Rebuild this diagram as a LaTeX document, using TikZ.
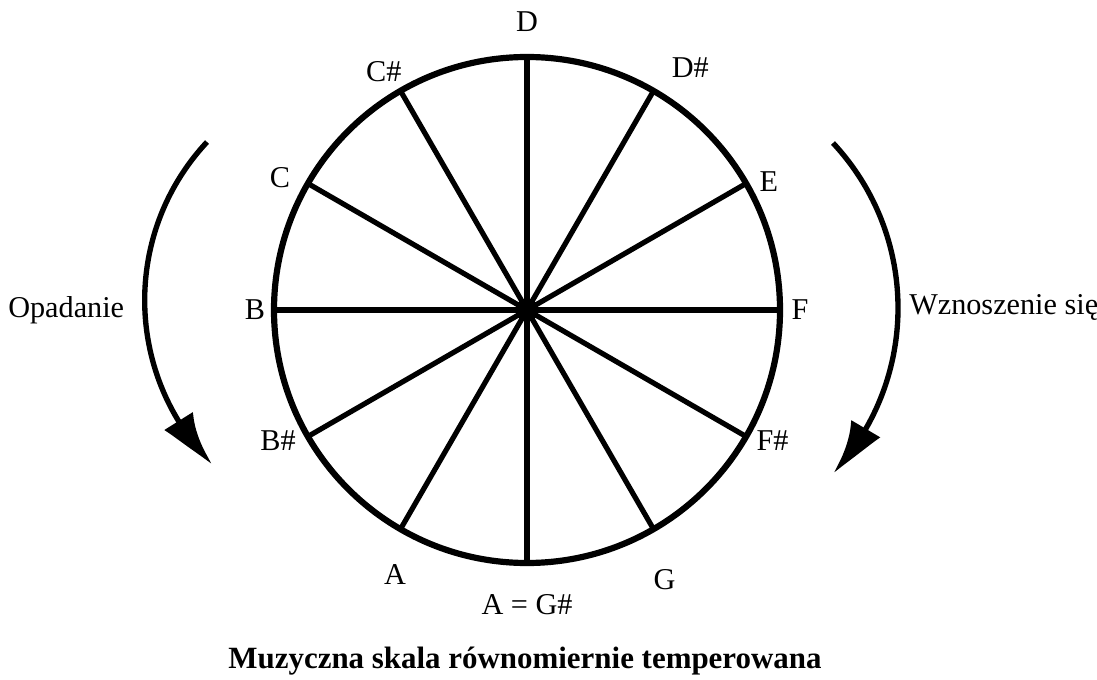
\documentclass[tikz,border=0pt]{standalone}
\usepackage{fontspec}
\setmainfont{Liberation Serif}
\usetikzlibrary{arrows.meta,bending,positioning}

\begin{document}
\begin{tikzpicture}[x=0.025cm,y=0.025cm,
        tone/.style={inner sep=0pt,font=\fontsize{21.5}{24}\selectfont},
        turn/.style={line width=3.8pt,-{Latex[length=40pt,width=24pt,bend]}}]
        \useasboundingbox (0,0) rectangle (1097,679);
        % wheel of tones
        \coordinate (c) at (527,369);
        \draw[line width=4.4pt] (c) circle (253);
        \foreach \a in {0,30,...,330} {
          \path (c) ++(\a:253) coordinate (rim\a);
          \draw[line width=3.7pt] (c) -- (rim\a);
        }
        \fill (c) circle (11);
        \foreach \a/\r/\t [count=\i] in {90/288/D, 56/292/D\#, 28/274/E, 0/273/F,
            -28/278/F\#, -63/303/G, -90/295/{A = G\#}, 243.5/296/A,
            207.6/281/B\#, 180/272/B, 151.9/280/C, 121/278/C\#}
          \path (c) ++(\a:\r) node[tone] (t\i) {\t};
        % directions
        \coordinate (fall) at (207,537);
        \coordinate (rise) at (833,536);
        \draw[turn] (fall) arc[start angle=137,end angle=225,radius=232];
        \draw[turn] (rise) arc[start angle=43,end angle=-43,radius=242];
        \node[tone,anchor=west] (down) at (8,369) {Opadanie};
        \node[tone,anchor=west] (up) at (909,372) {Wznoszenie się};
        \node[tone,font=\fontsize{22}{24}\selectfont\bfseries] (title) at (525,18)
          {Muzyczna skala równomiernie temperowana};
      \end{tikzpicture}
\end{document}
